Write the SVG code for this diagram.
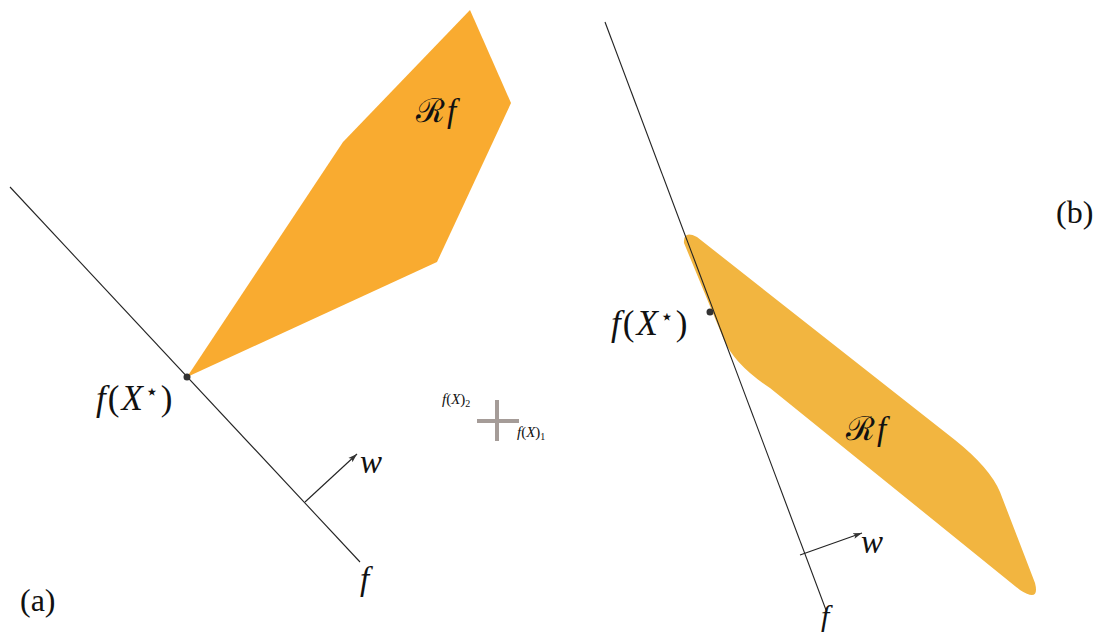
<svg xmlns="http://www.w3.org/2000/svg" width="1102" height="636" viewBox="0 0 1102 636">
<style>
text{font-family:"Liberation Serif","DejaVu Serif",serif;fill:#111}
.m{font-style:italic}
.r{font-style:normal}
.ln{stroke:#222;stroke-width:1.1;fill:none}
.ax{stroke:#a59c98;stroke-width:4;fill:none}
</style>
<defs>
<marker id="ah" markerWidth="10" markerHeight="8" refX="9" refY="4" orient="auto" markerUnits="userSpaceOnUse">
<path d="M0,1 L9,4 L0,7 L2,4 Z" fill="#333"/>
</marker>
</defs>
<g id="regionA">
<polygon points="187,377 343,142 470,10 511,103 437,262" fill="#f9ab30"/>
<text class="r" x="416" y="122" font-size="33" letter-spacing="2">ℛ<tspan class="m">f</tspan></text>
</g>
<g id="regionB">
<path d="M684,243 Q683,230 697,237 L955,440 Q990,468 1000,492 L1035,583 Q1040,603 1020,590 L770,388 Q735,365 724,340 Z" fill="#f2b540"/>
<text class="r" x="846" y="440" font-size="33" letter-spacing="2">ℛ<tspan class="m">f</tspan></text>
</g>
<g id="connectors">
<line class="ln" x1="10" y1="187" x2="360" y2="562"/>
<line class="ln" x1="305" y1="502" x2="357" y2="454" stroke="#333" marker-end="url(#ah)"/>
<line class="ln" x1="605" y1="22" x2="826" y2="610"/>
<line class="ln" x1="800" y1="555" x2="862" y2="533" stroke="#333" marker-end="url(#ah)"/>
</g>
<g id="pointA">
<circle cx="187" cy="377" r="3.5" fill="#333"/>
<text class="m" x="96" y="410" font-size="35" letter-spacing="2">f<tspan class="r">(</tspan>X<tspan font-size="22" baseline-shift="11" class="r">⋆</tspan><tspan class="r">)</tspan></text>
</g>
<g id="pointB">
<circle cx="710" cy="312" r="3.5" fill="#333"/>
<text class="m" x="611" y="335" font-size="35" letter-spacing="2">f<tspan class="r">(</tspan>X<tspan font-size="22" baseline-shift="11" class="r">⋆</tspan><tspan class="r">)</tspan></text>
</g>
<g id="axes">
<line class="ax" x1="497" y1="400" x2="497" y2="441"/>
<line class="ax" x1="477" y1="421" x2="519" y2="421"/>
<text class="m" x="442" y="404" font-size="15">f<tspan class="r">(</tspan>X<tspan class="r">)</tspan><tspan class="r" font-size="10" baseline-shift="-3">2</tspan></text>
<text class="m" x="517" y="437" font-size="15">f<tspan class="r">(</tspan>X<tspan class="r">)</tspan><tspan class="r" font-size="10" baseline-shift="-3">1</tspan></text>
</g>
<g id="labels">
<text class="m" x="360" y="473" font-size="33">w</text>
<text class="m" x="861" y="553" font-size="33">w</text>
<text class="m" x="360" y="590" font-size="33">f</text>
<text class="m" x="821" y="626" font-size="30">f</text>
<text class="r" x="20" y="611" font-size="32">(a)</text>
<text class="r" x="1056" y="223" font-size="32">(b)</text>
</g>
</svg>
